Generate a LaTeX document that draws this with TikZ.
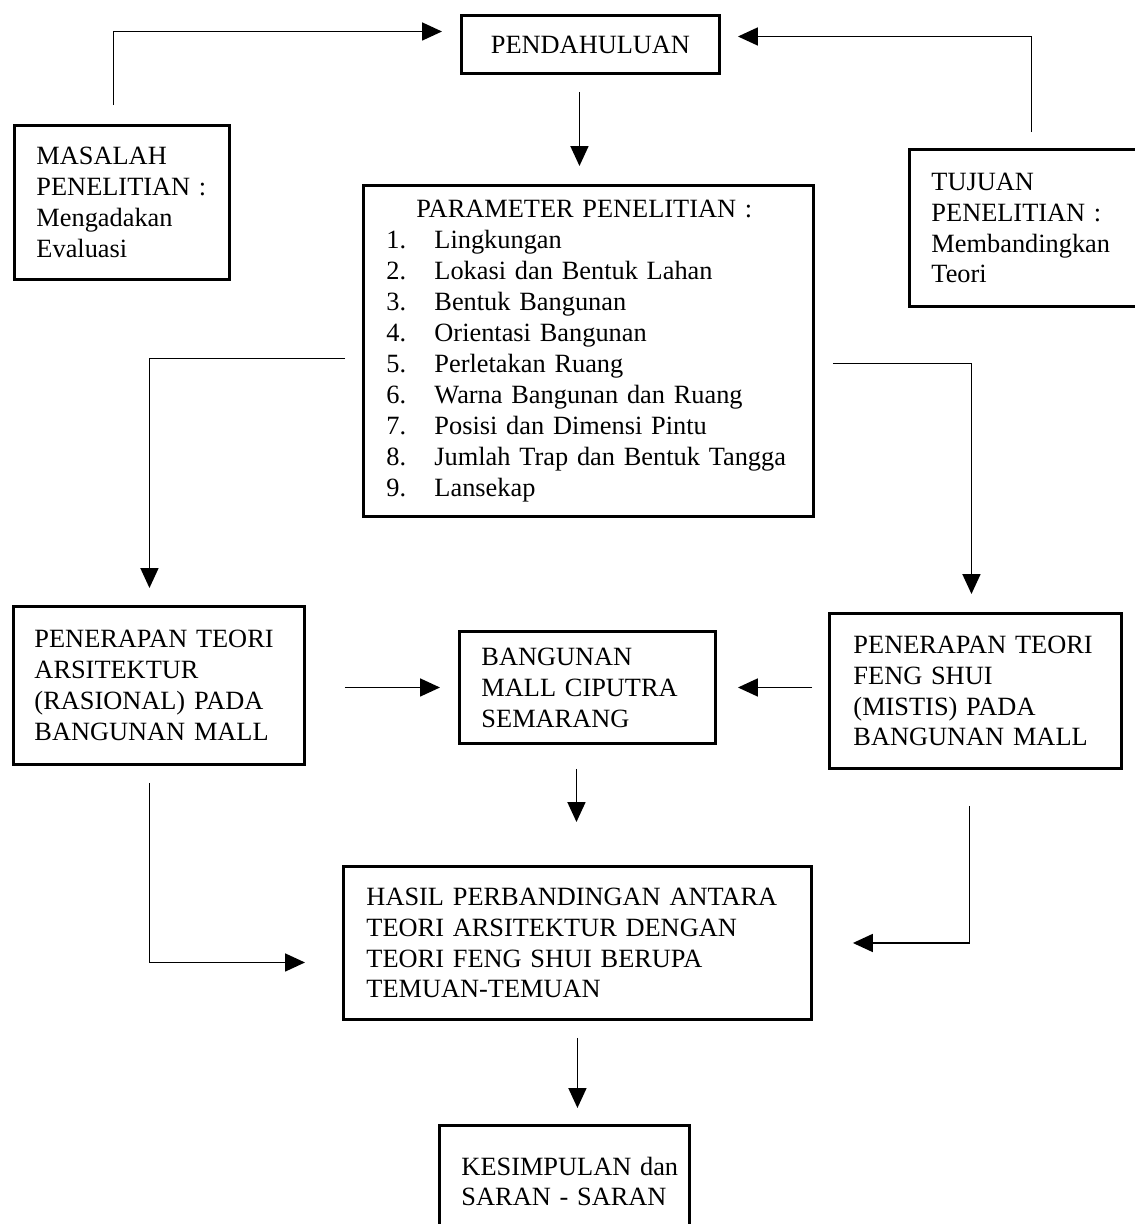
\documentclass[tikz,border=0pt]{standalone}
\usepackage{fontspec}
\setmainfont{Liberation Serif}
\usetikzlibrary{arrows.meta, positioning, calc}
\newcommand{\paritem}[2]{\makebox[0.96cm][l]{#1}#2}

\begin{document}
\begin{tikzpicture}[
    x=0.02cm, y=-0.02cm,
    font=\fontsize{15}{17.6}\selectfont,
    % Box Style (plain framed text)
    box/.style={
        draw,
        line width=1.7pt,
        inner sep=0pt,
        anchor=north west,
        align=left
    },
    % Connecting Arrows
    conn/.style={
        draw,
        line width=1pt,
        -{Triangle[length=0.4cm, width=0.36cm]}
    }
]
\useasboundingbox (0,0) rectangle (1134,1224);

% --- TOP ROW ---
\node[box, align=center, minimum width=5.16cm, minimum height=1.16cm] (intro) at (460,14) {PENDAHULUAN};
\node[box, minimum width=4.3cm, minimum height=3.08cm, text width=3.42cm] (masalah) at (13,124)
    {MASALAH\\PENELITIAN~:\\Mengadakan\\Evaluasi};
\node[box, minimum width=4.64cm, minimum height=3.14cm, text width=3.76cm] (tujuan) at (908,148)
    {TUJUAN\\PENELITIAN~:\\Membandingkan\\Teori};

% --- PARAMETER ---
\node[box, minimum width=9cm, minimum height=6.62cm, text width=8.08cm] (param) at (362,184)
    {\hspace*{0.6cm}PARAMETER PENELITIAN :\\
     \paritem{1.}{Lingkungan}\\
     \paritem{2.}{Lokasi dan Bentuk Lahan}\\
     \paritem{3.}{Bentuk Bangunan}\\
     \paritem{4.}{Orientasi Bangunan}\\
     \paritem{5.}{Perletakan Ruang}\\
     \paritem{6.}{Warna Bangunan dan Ruang}\\
     \paritem{7.}{Posisi dan Dimensi Pintu}\\
     \paritem{8.}{Jumlah Trap dan Bentuk Tangga}\\
     \paritem{9.}{Lansekap}};

% --- MIDDLE ROW ---
\node[box, minimum width=5.82cm, minimum height=3.16cm, text width=4.98cm] (apply1) at (12,605)
    {PENERAPAN~TEORI\\ARSITEKTUR\\(RASIONAL)~PADA\\BANGUNAN~MALL};
\node[box, minimum width=5.12cm, minimum height=2.24cm, text width=4.24cm] (mall) at (458,630)
    {BANGUNAN\\MALL CIPUTRA\\SEMARANG};
\node[box, minimum width=5.84cm, minimum height=3.1cm, text width=4.88cm] (apply2) at (828,612)
    {PENERAPAN~TEORI\\FENG SHUI\\(MISTIS)~PADA\\BANGUNAN~MALL};

% --- BOTTOM ---
\node[box, minimum width=9.36cm, minimum height=3.06cm, text width=8.44cm] (result) at (342,865)
    {HASIL PERBANDINGAN~ANTARA\\TEORI ARSITEKTUR DENGAN\\TEORI FENG SHUI BERUPA\\TEMUAN-TEMUAN};
\node[box, minimum width=5cm, minimum height=2.24cm, text width=4.12cm] (concl) at (438,1124)
    {KESIMPULAN~dan\\SARAN - SARAN};

% --- CONNECTIONS ---
\draw[conn, shorten <=0.38cm, shorten >=0.36cm] ([xshift=-0.17cm]masalah.north) |- ([yshift=0.26cm]intro.west);
\draw[conn, shorten <=0.32cm, shorten >=0.34cm] ([xshift=0.12cm]tujuan.north) |- ([yshift=0.16cm]intro.east);
\draw[conn, shorten <=0.34cm, shorten >=0.36cm] ([xshift=-0.22cm]intro.south) -- ([xshift=-0.22cm]intro.south |- param.north);
\draw[conn, shorten <=0.34cm, shorten >=0.34cm] ([yshift=-0.15cm]param.west) -| ([xshift=-0.19cm]apply1.north);
\draw[conn, shorten <=0.36cm, shorten >=0.36cm] ([yshift=-0.25cm]param.east) -| ([xshift=-0.08cm]apply2.north);
\draw[conn, shorten <=0.78cm, shorten >=0.36cm] (apply1.east |- mall.west) -- (mall.west);
\draw[conn, shorten <=0.32cm, shorten >=0.42cm] (apply2.west |- mall.east) -- (mall.east);
\draw[conn, shorten <=0.48cm, shorten >=0.86cm] ([xshift=-0.22cm]mall.south) -- ([xshift=-0.22cm]mall.south |- result.north);
\draw[conn, shorten <=0.34cm, shorten >=0.74cm] ([xshift=-0.19cm]apply1.south) |- ([yshift=-0.39cm]result.west);
\draw[conn, shorten <=0.72cm, shorten >=0.8cm] ([xshift=-0.12cm]apply2.south) |- (result.east);
\draw[conn, shorten <=0.34cm, shorten >=0.32cm] (result.south) -- (result.south |- concl.north);

\end{tikzpicture}
\end{document}
